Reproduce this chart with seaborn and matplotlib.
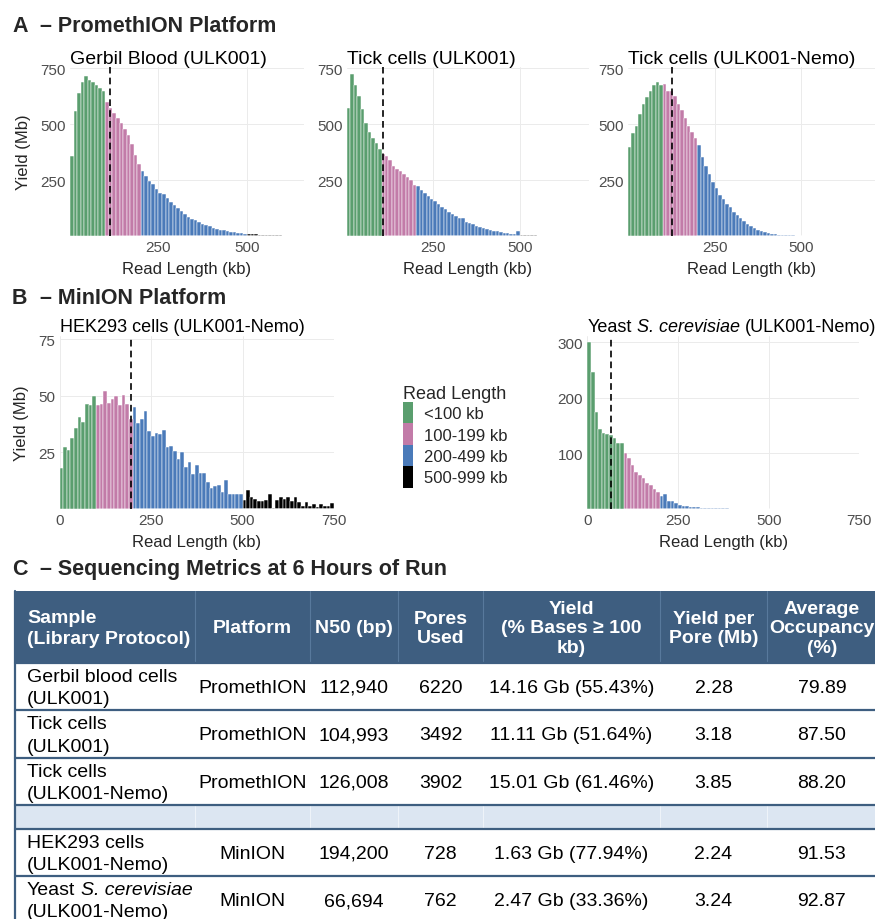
import matplotlib
matplotlib.use("Agg")
import numpy as np
import pandas as pd
import matplotlib.pyplot as plt
from matplotlib.patches import Patch, Rectangle
import seaborn as sns

# ------------------------------------------------------------------ data
categories = ["<100 kb", "100-199 kb", "200-499 kb", "500-999 kb"]
category_colors = ["#5A9E6E", "#C27BA8", "#4A7AB9", "#000000"]
category_start_kb = [0, 100, 200, 500]
bin_width_kb = 10

# yield (Mb) per 10-kb bin, by read-length class
gerbil_lt100 = [356, 558, 638, 688, 715, 699, 688, 674, 663, 646]
gerbil_100_199 = [598, 572, 551, 527, 506, 480, 452, 410, 362, 322]
gerbil_200_499 = [292, 270, 248, 232, 212, 195, 190, 170, 155, 140, 128, 113, 100,
                  88, 78, 72, 62, 56, 50, 44, 38, 33, 30, 27, 23, 20, 18, 15, 13, 12]
gerbil_500_999 = [10, 9, 9, 8, 7, 6, 6, 5, 4, 4, 3, 3, 3, 2, 2, 2]

tick_lt100 = [573, 725, 676, 625, 568, 506, 464, 439, 417, 390]
tick_100_199 = [368, 357, 341, 315, 300, 290, 278, 263, 249, 229]
tick_200_499 = [226, 205, 192, 178, 168, 157, 142, 130, 122, 110, 100, 90, 82, 80,
                64, 60, 55, 48, 42, 37, 32, 28, 25, 22, 18, 15, 13, 12, 10, 22]
tick_500_999 = [8, 6, 5, 4, 4, 3, 3, 2, 2, 2, 2, 1, 1, 1, 1, 1, 1, 1, 1]

nemo_lt100 = [397, 460, 491, 546, 588, 623, 650, 673, 690, 676]
nemo_100_199 = [680, 650, 646, 625, 591, 564, 527, 491, 467, 437]
nemo_200_499 = [405, 353, 315, 278, 244, 214, 186, 167, 146, 129, 110, 95, 80, 70,
                55, 45, 38, 30, 25, 20, 15, 12, 9, 7, 6, 5, 4, 4, 3, 3]
nemo_500_999 = [3, 2, 2, 1, 1, 1, 1, 1, 1, 1, 1, 1, 1, 1, 1, 1, 1, 1, 1]

hek_lt100 = [18, 27.5, 26, 31.5, 36, 40.5, 38.5, 46.5, 46, 50]
hek_100_199 = [46, 46.5, 52, 47, 48.5, 50, 46, 50.5, 46.5, 40]
hek_200_499 = [45, 38, 40, 43.5, 34.5, 32.5, 33.5, 33, 35, 27.5, 28, 25.5, 22, 25,
               18.5, 21, 15.5, 19.5, 16, 16, 12, 9.5, 10, 10.5, 7.5, 13, 6.5, 6.5, 6.5, 6.5]
hek_500_999 = [4, 8.5, 5.5, 4.5, 3.5, 3.5, 4, 6.5, 0.5, 4, 5.5, 4.5, 5.5, 3.5, 5.5,
               3, 1.2, 3, 1.5, 2, 1, 2, 1.5, 1.5, 2.5]

yeast_lt100 = [300, 246, 175, 143, 137, 135, 133, 128, 118, 118]
yeast_100_199 = [101, 92, 79, 66, 61, 56, 46, 43, 36, 31]
yeast_200_499 = [23, 27, 15, 14, 10, 8, 6, 5, 4, 3.5, 3, 2.5, 2, 2, 1.5, 1.5, 1, 1,
                 1, 0.8, 0.6, 0.5, 0.5, 0.4, 0.5, 0.3, 0.3, 0.3, 0.2, 0.2]
yeast_500_999 = []

# "_..._" marks italic text
panel_titles = ["Gerbil Blood (ULK001)", "Tick cells (ULK001)", "Tick cells (ULK001-Nemo)",
                "HEK293 cells (ULK001-Nemo)", "Yeast _S. cerevisiae_ (ULK001-Nemo)"]

# table
table_header = ["Sample\n(Library Protocol)", "Platform", "N50 (bp)", "Pores\nUsed",
                "Yield\n(% Bases \u2265 100\nkb)", "Yield per\nPore (Mb)",
                "Average\nOccupancy\n(%)"]
table_sample = ["Gerbil blood cells\n(ULK001)", "Tick cells\n(ULK001)",
                "Tick cells\n(ULK001-Nemo)", "", "HEK293 cells\n(ULK001-Nemo)",
                "Yeast _S. cerevisiae_\n(ULK001-Nemo)"]
table_platform = ["PromethION", "PromethION", "PromethION", "", "MinION", "MinION"]
table_n50 = ["112,940", "104,993", "126,008", "", "194,200", "66,694"]
table_pores = ["6220", "3492", "3902", "", "728", "762"]
table_yield = ["14.16 Gb (55.43%)", "11.11 Gb (51.64%)", "15.01 Gb (61.46%)", "",
               "1.63 Gb (77.94%)", "2.47 Gb (33.36%)"]
table_ypp = ["2.28", "3.18", "3.85", "", "2.24", "3.24"]
table_occ = ["79.89", "87.50", "88.20", "", "91.53", "92.87"]

# ------------------------------------------------------------------ style
sns.set_style("white")
plt.rcParams["font.family"] = ["Liberation Sans", "DejaVu Sans"]

W, H = 875, 920
fig = plt.figure(figsize=(W / 100, H / 100), dpi=100)
renderer = fig.canvas.get_renderer()


def px_axes(l, t, r, b, **kw):
    return fig.add_axes([l / W, 1 - b / H, (r - l) / W, (b - t) / H], **kw)


def text_w(s, **kw):
    t = fig.text(0, 0, s, **kw)
    w = t.get_window_extent(renderer).width
    t.remove()
    return w


def rich_line(x, y, line, va="center", **kw):
    """Draw a line of text in figure pixels (from top-left); '_' toggles italics."""
    tokens = line.split("_")
    for k, tok in enumerate(tokens):
        if not tok:
            continue
        style = "italic" if k % 2 else "normal"
        sp = text_w("x x", style=style, **kw) - text_w("xx", style=style, **kw)
        if tok.startswith(" "):
            x += sp
        core = tok.strip()
        if core:
            fig.text(x / W, 1 - y / H, core, style=style, va=va, ha="left", **kw)
            x += text_w(core, style=style, **kw)
        if tok.endswith(" ") and len(tok.strip()) > 0:
            x += sp
    return x


def panel_frame(groups):
    rows = []
    for cat, start, vals in zip(categories, category_start_kb, groups):
        for j, v in enumerate(vals):
            rows.append({"length": start + bin_width_kb * (j + 0.5), "yield": v,
                         "category": cat})
    return pd.DataFrame(rows)


def n50_kb(s):
    return int(s.replace(",", "")) / 1000.0


def draw_panel(ax, groups, n50, xlim, ylim, xticks, yticks, ylabel):
    df = panel_frame(groups)
    sns.histplot(data=df, x="length", weights="yield", hue="category",
                 hue_order=categories, palette=category_colors,
                 binwidth=bin_width_kb, binrange=(0, 750), multiple="layer",
                 alpha=1, edgecolor="white", linewidth=0.35, legend=False, ax=ax)
    ax.axvline(n50, color="black", ls=(0, (4, 2.5)), lw=1.2)
    ax.set_xlim(*xlim)
    ax.set_ylim(*ylim)
    ax.set_xticks(xticks)
    ax.set_yticks(yticks)
    ax.grid(True, color="#EBEBEB", lw=0.7)
    ax.set_axisbelow(True)
    sns.despine(ax=ax, left=True, bottom=True)
    ax.tick_params(length=0, labelsize=11, labelcolor="#4D4D4D", pad=3)
    ax.set_xlabel("Read Length (kb)", fontsize=12, labelpad=5)
    ax.set_ylabel(ylabel, fontsize=12, labelpad=7)


# ------------------------------------------------------------------ table (background axes)
tax = fig.add_axes([0, 0, 1, 1])
tax.set_xlim(0, W)
tax.set_ylim(H, 0)
tax.axis("off")

hdr_color = "#3E5E80"
col_edges = [15, 195, 310, 398, 483, 660, 767, 877]
row_edges = [664, 711, 759, 806, 830, 877, 925]
hdr_top = 592

tax.add_patch(Rectangle((col_edges[0], hdr_top), W + 10 - col_edges[0],
                        row_edges[0] - hdr_top, facecolor=hdr_color, edgecolor="none"))
tax.add_patch(Rectangle((col_edges[0], row_edges[3]), W + 10 - col_edges[0],
                        row_edges[4] - row_edges[3], facecolor="#DCE6F2", edgecolor="none"))
for x in col_edges[1:-1]:
    tax.plot([x, x], [hdr_top, row_edges[0]], color="#58799C", lw=0.8)
    tax.plot([x, x], [row_edges[3], row_edges[4]], color="#EEF3F9", lw=0.8)
for y in row_edges[:-1]:
    tax.plot([col_edges[0], W + 10], [y, y], color=hdr_color, lw=1.6)
tax.plot([col_edges[0], col_edges[0]], [hdr_top, H], color=hdr_color, lw=1.6)

hdr_mid = (hdr_top + row_edges[0]) / 2
for i, txt in enumerate(table_header):
    if i == 0:
        tax.text(27, hdr_mid + 1, txt, color="white", fontsize=14, weight="bold",
                 ha="left", va="center", linespacing=1.25)
    else:
        cx = (col_edges[i] + col_edges[i + 1]) / 2
        tax.text(cx, hdr_mid + 1, txt, color="white", fontsize=14, weight="bold",
                 ha="center", va="center", multialignment="center", linespacing=1.22)

columns = [table_sample, table_platform, table_n50, table_pores, table_yield,
           table_ypp, table_occ]
for r in range(len(table_sample)):
    cy = (row_edges[r] + row_edges[r + 1]) / 2 + 1
    for c, col in enumerate(columns):
        txt = col[r]
        if not txt:
            continue
        if c == 0:
            lines = txt.split("\n")
            for k, line in enumerate(lines):
                ly = cy + (k - (len(lines) - 1) / 2) * 22
                rich_line(27, ly, line, va="center", fontsize=14, color="black")
        else:
            cx = (col_edges[c] + col_edges[c + 1]) / 2
            tax.text(cx, cy, txt, fontsize=14, ha="center", va="center", color="black")

# ------------------------------------------------------------------ histograms
ax1 = px_axes(70, 68, 303.6, 237.3)
draw_panel(ax1, [gerbil_lt100, gerbil_100_199, gerbil_200_499, gerbil_500_999],
           n50_kb(table_n50[0]), (0, 660), (0, 755),
           [250, 500], [250, 500, 750], "Yield (Mb)")

ax2 = px_axes(347, 68, 589, 237.3)
draw_panel(ax2, [tick_lt100, tick_100_199, tick_200_499, tick_500_999],
           n50_kb(table_n50[1]), (0, 700), (0, 755),
           [250, 500], [250, 500, 750], "")

ax3 = px_axes(628, 68, 875, 237.3)
draw_panel(ax3, [nemo_lt100, nemo_100_199, nemo_200_499, nemo_500_999],
           n50_kb(table_n50[2]), (0, 712), (0, 755),
           [250, 500], [250, 500, 750], "")

ax4 = px_axes(59.5, 337, 334, 510)
draw_panel(ax4, [hek_lt100, hek_100_199, hek_200_499, hek_500_999],
           n50_kb(table_n50[4]), (0, 750), (0, 76.5),
           [0, 250, 500, 750], [25, 50, 75], "Yield (Mb)")

ax5 = px_axes(587.3, 337, 859.3, 510)
draw_panel(ax5, [yeast_lt100, yeast_100_199, yeast_200_499, yeast_500_999],
           n50_kb(table_n50[5]), (0, 750), (0, 311),
           [0, 250, 500, 750], [100, 200, 300], "")

# panel titles (left aligned, baseline just above each panel)
title_specs = [(ax1, 14), (ax2, 14), (ax3, 14), (ax4, 13), (ax5, 13)]
for (ax, fs), title in zip(title_specs, panel_titles):
    bb = ax.get_position()
    x_px = bb.x0 * W
    y_px = (1 - bb.y1) * H - 4.5
    rich_line(x_px, y_px, title, va="baseline", fontsize=fs, color="black")

# legend
handles = [Patch(facecolor=c, edgecolor="none") for c in category_colors]
fig.legend(handles, categories, title="Read Length", loc="upper left",
           bbox_to_anchor=(403 / W, 1 - 386 / H), frameon=False, fontsize=12,
           title_fontsize=13, handlelength=0.62, handleheight=1.6,
           handletextpad=0.62, labelspacing=0.0, borderaxespad=0, borderpad=0,
           alignment="left")

# section headings
for letter, text, y in [("A", "\u2013 PromethION Platform", 26),
                        ("B", "\u2013 MinION Platform", 298),
                        ("C", "\u2013 Sequencing Metrics at 6 Hours of Run", 570)]:
    fig.text(12 / W, 1 - y / H, letter, fontsize=15.5, weight="bold", va="center")
    fig.text(40 / W, 1 - y / H, text, fontsize=15.5, weight="bold", va="center")

fig.savefig("out.png", dpi=100)
